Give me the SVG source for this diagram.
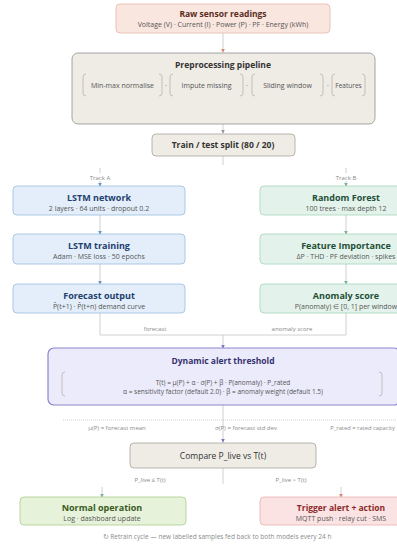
<svg xmlns="http://www.w3.org/2000/svg" width="397" height="545" viewBox="0 0 397 545">
<defs>
<style>
text{font-family:"Open Sans","Liberation Sans",sans-serif;text-anchor:middle}
.t{font-size:9px;font-weight:700}
.s{font-size:7px;fill:#555}
.l{font-size:6px;fill:#8a8a8a}
.ln{fill:none;stroke:#c4c4c4;stroke-width:0.8}
.br{fill:none;stroke:#b8b4ac;stroke-width:0.8}
</style>
<marker id="ar" viewBox="0 0 6 6" refX="5" refY="3" markerWidth="5" markerHeight="5" orient="auto"><path d="M0,0 L6,3 L0,6 z" fill="#999"/></marker>
<marker id="ab" viewBox="0 0 6 6" refX="5" refY="3" markerWidth="5" markerHeight="5" orient="auto"><path d="M0,0 L6,3 L0,6 z" fill="#6d93c4"/></marker>
<marker id="ag" viewBox="0 0 6 6" refX="5" refY="3" markerWidth="5" markerHeight="5" orient="auto"><path d="M0,0 L6,3 L0,6 z" fill="#79b395"/></marker>
<marker id="ap" viewBox="0 0 6 6" refX="5" refY="3" markerWidth="5" markerHeight="5" orient="auto"><path d="M0,0 L6,3 L0,6 z" fill="#7d78c2"/></marker>
<marker id="aro" viewBox="0 0 6 6" refX="5" refY="3" markerWidth="5" markerHeight="5" orient="auto"><path d="M0,0 L6,3 L0,6 z" fill="#d98870"/></marker>
</defs>
<rect width="397" height="545" fill="#fff"/>

<g id="connectors">
<path class="ln" d="M223,33 V52" marker-end="url(#aro)"/>
<path class="ln" d="M223,124 V133" marker-end="url(#ar)"/>
<path class="ln" d="M223,156 V165"/>
<path class="ln" d="M100,168 V173"/>
<path class="ln" d="M346,168 V173"/>
<text class="l" x="100" y="180">Track A</text>
<text class="l" x="346" y="180">Track B</text>
<path class="ln" d="M100,181 V186" marker-end="url(#ab)"/>
<path class="ln" d="M346,181 V186" marker-end="url(#ag)"/>
<path class="ln" d="M100,215 V234" marker-end="url(#ab)"/>
<path class="ln" d="M100,264 V284" marker-end="url(#ab)"/>
<path class="ln" d="M346,215 V234" marker-end="url(#ag)"/>
<path class="ln" d="M346,264 V284" marker-end="url(#ag)"/>
<path class="ln" d="M100,313 V335 H346 V313"/>
<text class="l" x="155" y="331">forecast</text>
<text class="l" x="292" y="331">anomaly score</text>
<path class="ln" d="M223,335 V348" marker-end="url(#ap)"/>
<path class="ln" d="M223,405 V442" marker-end="url(#ap)"/>
<path d="M63,420 H397" fill="none" stroke="#bbb" stroke-width="0.7" stroke-dasharray="1,1"/>
<text class="l" x="117" y="430">μ(P) = forecast mean</text>
<text class="l" x="246" y="430">σ(P) = forecast std dev</text>
<text class="l" x="395" y="430" style="text-anchor:end;font-size:5.8px">P_rated = rated capacity</text>
<path class="ln" d="M223,468 V484"/>
<text class="l" x="150" y="482">P_live ≤ T(t)</text>
<text class="l" x="291" y="482">P_live &gt; T(t)</text>
<path class="ln" d="M102,487 V497" marker-end="url(#ag)"/>
<path class="ln" d="M341,487 V497" marker-end="url(#aro)"/>
</g>

<g id="raw">
<rect x="116" y="4" width="214" height="29" rx="4" fill="#f9e6df" stroke="#e4b9a9" stroke-width="0.8"/>
<text class="t" x="223" y="17" fill="#5a2c20" style="font-size:8.5px">Raw sensor readings</text>
<text class="s" x="223" y="27" fill="#7a5045">Voltage (V) · Current (I) · Power (P) · PF · Energy (kWh)</text>
</g>

<g id="preprocess">
<rect x="72" y="53" width="303" height="71" rx="6" fill="#efece6" stroke="#8f8f8f" stroke-width="0.8"/>
<text class="t" x="223" y="68" fill="#333" style="font-size:8.5px">Preprocessing pipeline</text>
<path class="br" d="M86,74 Q83,74 83,77 V93 Q83,96 86,96 M159,74 Q162,74 162,77 V93 Q162,96 159,96"/>
<text class="s" x="122.5" y="88" fill="#666">Min-max normalise</text>
<text class="s" x="166" y="88" fill="#888">·</text>
<path class="br" d="M173,74 Q170,74 170,77 V93 Q170,96 173,96 M240,74 Q243,74 243,77 V93 Q243,96 240,96"/>
<text class="s" x="206.5" y="88" fill="#666">Impute missing</text>
<text class="s" x="247" y="88" fill="#888">·</text>
<path class="br" d="M255,74 Q252,74 252,77 V93 Q252,96 255,96 M320,74 Q323,74 323,77 V93 Q323,96 320,96"/>
<text class="s" x="287.5" y="88" fill="#666">Sliding window</text>
<text class="s" x="328" y="88" fill="#888">·</text>
<path class="br" d="M335,74 Q332,74 332,77 V93 Q332,96 335,96 M362,74 Q365,74 365,77 V93 Q365,96 362,96"/>
<text class="s" x="348.5" y="88" fill="#666" style="font-size:6.5px">Features</text>
</g>

<g id="split">
<rect x="152" y="134" width="143" height="22" rx="4" fill="#efece6" stroke="#a8a49c" stroke-width="0.8"/>
<text class="t" x="223" y="148" fill="#333" style="font-size:8.5px">Train / test split (80 / 20)</text>
</g>

<g id="lstm-net">
<rect x="13" y="186" width="172" height="29" rx="4" fill="#e3eefa" stroke="#9bbbe0" stroke-width="0.8"/>
<text class="t" x="99" y="201" fill="#1f3f6e">LSTM network</text>
<text class="s" x="99" y="210.5" fill="#4a6a96">2 layers · 64 units · dropout 0.2</text>
</g>
<g id="lstm-train">
<rect x="13" y="234" width="172" height="30" rx="4" fill="#e3eefa" stroke="#9bbbe0" stroke-width="0.8"/>
<text class="t" x="99" y="249" fill="#1f3f6e">LSTM training</text>
<text class="s" x="99" y="258.5" fill="#4a6a96">Adam · MSE loss · 50 epochs</text>
</g>
<g id="forecast">
<rect x="13" y="284" width="172" height="29" rx="4" fill="#e3eefa" stroke="#9bbbe0" stroke-width="0.8"/>
<text class="t" x="99" y="299" fill="#1f3f6e">Forecast output</text>
<text class="s" x="99" y="308.5" fill="#4a6a96">P̂(t+1) · P̂(t+n) demand curve</text>
</g>

<g id="rf">
<rect x="260" y="186" width="172" height="29" rx="4" fill="#e3f3eb" stroke="#a5d4bb" stroke-width="0.8"/>
<text class="t" x="346" y="201" fill="#1f4f38">Random Forest</text>
<text class="s" x="346" y="210.5" fill="#4a7a62">100 trees · max depth 12</text>
</g>
<g id="feat">
<rect x="260" y="234" width="172" height="30" rx="4" fill="#e3f3eb" stroke="#a5d4bb" stroke-width="0.8"/>
<text class="t" x="346" y="249" fill="#1f4f38">Feature Importance</text>
<text class="s" x="346" y="258.5" fill="#4a7a62">ΔP · THD · PF deviation · spikes</text>
</g>
<g id="anomaly">
<rect x="260" y="284" width="172" height="29" rx="4" fill="#e3f3eb" stroke="#a5d4bb" stroke-width="0.8"/>
<text class="t" x="346" y="299" fill="#1f4f38">Anomaly score</text>
<text class="s" x="346" y="308.5" fill="#4a7a62">P(anomaly) ∈ [0, 1] per window</text>
</g>

<g id="threshold">
<rect x="48" y="348" width="352" height="57" rx="6" fill="#ecebfb" stroke="#8b86cc" stroke-width="1.2"/>
<text class="t" x="223" y="364" fill="#35326e" style="font-size:8.5px">Dynamic alert threshold</text>
<path class="br" d="M65,372 Q62,372 62,375 V393 Q62,396 65,396 M379,372 Q382,372 382,375 V393 Q382,396 379,396" stroke="#c0bde0"/>
<text class="s" x="223" y="385" fill="#4a4780" style="font-size:6.5px">T(t) = μ(P) + α · σ(P) + β · P(anomaly) · P_rated</text>
<text class="s" x="223" y="393.5" fill="#4a4780" style="font-size:6.5px">α = sensitivity factor (default 2.0) · β = anomaly weight (default 1.5)</text>
</g>

<g id="compare">
<rect x="130" y="443" width="186" height="25" rx="4" fill="#efece6" stroke="#a8a49c" stroke-width="0.8"/>
<text x="223" y="458.5" style="font-size:8.5px" fill="#333">Compare P_live vs T(t)</text>
</g>

<g id="normal">
<rect x="20" y="497" width="166" height="28" rx="4" fill="#e6f2da" stroke="#a9cd8a" stroke-width="0.8"/>
<text class="t" x="102" y="511" fill="#3a5a1e">Normal operation</text>
<text class="s" x="102" y="520.5" fill="#55733a">Log · dashboard update</text>
</g>
<g id="alert">
<rect x="260" y="497" width="172" height="28" rx="4" fill="#fbe3e3" stroke="#eab0b0" stroke-width="0.8"/>
<text class="t" x="341" y="511" fill="#8a2a2a" style="font-size:8.5px">Trigger alert + action</text>
<text class="s" x="341" y="520.5" fill="#a04848">MQTT push · relay cut · SMS</text>
</g>

<text class="l" x="217" y="539" style="font-size:6.5px">↻ Retrain cycle — new labelled samples fed back to both models every 24 h</text>
</svg>
